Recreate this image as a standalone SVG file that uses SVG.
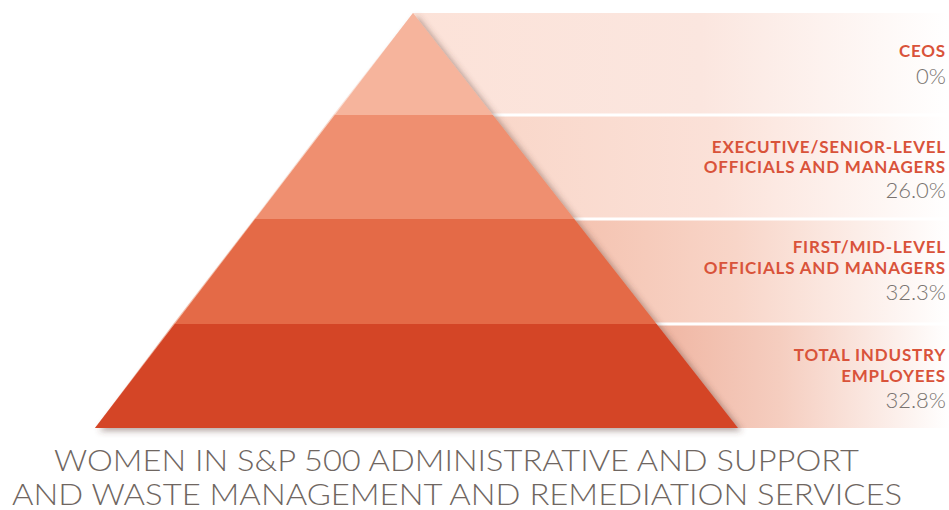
<svg xmlns="http://www.w3.org/2000/svg" width="949" height="510" viewBox="0 0 949 510">
  <defs>
    <style>
      .lab { font-family: Lato, "Open Sans", "Liberation Sans", sans-serif; font-weight: 700; font-size: 17px; fill: #d9533a; text-anchor: end; letter-spacing: 0.8px; }
      .pct { font-family: Lato, "Open Sans", "Liberation Sans", sans-serif; font-weight: 300; font-size: 22px; fill: #7a7470; text-anchor: end; }
      .title { font-family: Lato, "Open Sans", "Liberation Sans", sans-serif; font-weight: 300; font-size: 30px; fill: #6f6661; }
      .sep { stroke: #ffffff; stroke-width: 3; }
    </style>
    <linearGradient id="g1" gradientUnits="userSpaceOnUse" x1="400" y1="0" x2="949" y2="0">
      <stop offset="0" stop-color="#fce2d8"/>
      <stop offset="0.55" stop-color="#fbe6df"/>
      <stop offset="1" stop-color="#ffffff"/>
    </linearGradient>
    <linearGradient id="g2" gradientUnits="userSpaceOnUse" x1="480" y1="0" x2="949" y2="0">
      <stop offset="0" stop-color="#f9d6c8"/>
      <stop offset="0.5" stop-color="#fbe1d8"/>
      <stop offset="1" stop-color="#ffffff"/>
    </linearGradient>
    <linearGradient id="g3" gradientUnits="userSpaceOnUse" x1="560" y1="0" x2="949" y2="0">
      <stop offset="0" stop-color="#f4c1ae"/>
      <stop offset="0.45" stop-color="#f8d5c8"/>
      <stop offset="1" stop-color="#ffffff"/>
    </linearGradient>
    <linearGradient id="g4" gradientUnits="userSpaceOnUse" x1="640" y1="0" x2="949" y2="0">
      <stop offset="0" stop-color="#efb29e"/>
      <stop offset="0.45" stop-color="#f5cdbf"/>
      <stop offset="1" stop-color="#ffffff"/>
    </linearGradient>
    <filter id="shadow" x="-10%" y="-10%" width="130%" height="130%">
      <feDropShadow dx="4" dy="3" stdDeviation="3" flood-color="#5a3a30" flood-opacity="0.45"/>
    </filter>
  </defs>

  <g id="bands">
    <polygon points="413,13 949,13 949,114 334,114" fill="url(#g1)"/>
    <polygon points="334,114 949,114 949,218 255,218" fill="url(#g2)"/>
    <polygon points="255,218 949,218 949,323 174,323" fill="url(#g3)"/>
    <polygon points="174,323 949,323 949,428 95,428" fill="url(#g4)"/>
    <line class="sep" x1="480" y1="115" x2="949" y2="115"/>
    <line class="sep" x1="560" y1="219" x2="949" y2="219"/>
    <line class="sep" x1="640" y1="324" x2="949" y2="324"/>
  </g>

  <g id="pyramid" filter="url(#shadow)">
    <polygon id="tier-ceos" points="413,13 492.9,115 334.8,115" fill="#f6b49c"/>
    <polygon id="tier-executive" points="334.8,115 492.9,115 574.3,219 255.1,219" fill="#ef8f6f"/>
    <polygon id="tier-firstmid" points="255.1,219 574.3,219 656.6,324 174.7,324" fill="#e46b47"/>
    <polygon id="tier-total" points="174.7,324 656.6,324 738,428 95,428" fill="#d44528"/>
  </g>

  <g id="label-ceos">
    <text class="lab" x="946" y="57">CEOS</text>
    <text class="pct" x="946" y="84">0%</text>
  </g>
  <g id="label-executive">
    <text class="lab" x="946" y="153">EXECUTIVE/SENIOR-LEVEL</text>
    <text class="lab" x="946" y="173">OFFICIALS AND MANAGERS</text>
    <text class="pct" x="946" y="198">26.0%</text>
  </g>
  <g id="label-firstmid">
    <text class="lab" x="946" y="253">FIRST/MID-LEVEL</text>
    <text class="lab" x="946" y="274">OFFICIALS AND MANAGERS</text>
    <text class="pct" x="946" y="300">32.3%</text>
  </g>
  <g id="label-total">
    <text class="lab" x="946" y="361">TOTAL INDUSTRY</text>
    <text class="lab" x="946" y="382">EMPLOYEES</text>
    <text class="pct" x="946" y="408">32.8%</text>
  </g>

  <g id="title">
    <text class="title" x="54" y="471" textLength="805" lengthAdjust="spacingAndGlyphs">WOMEN IN S&amp;P 500 ADMINISTRATIVE AND SUPPORT</text>
    <text class="title" x="12" y="505" textLength="890" lengthAdjust="spacingAndGlyphs">AND WASTE MANAGEMENT AND REMEDIATION SERVICES</text>
  </g>
</svg>
